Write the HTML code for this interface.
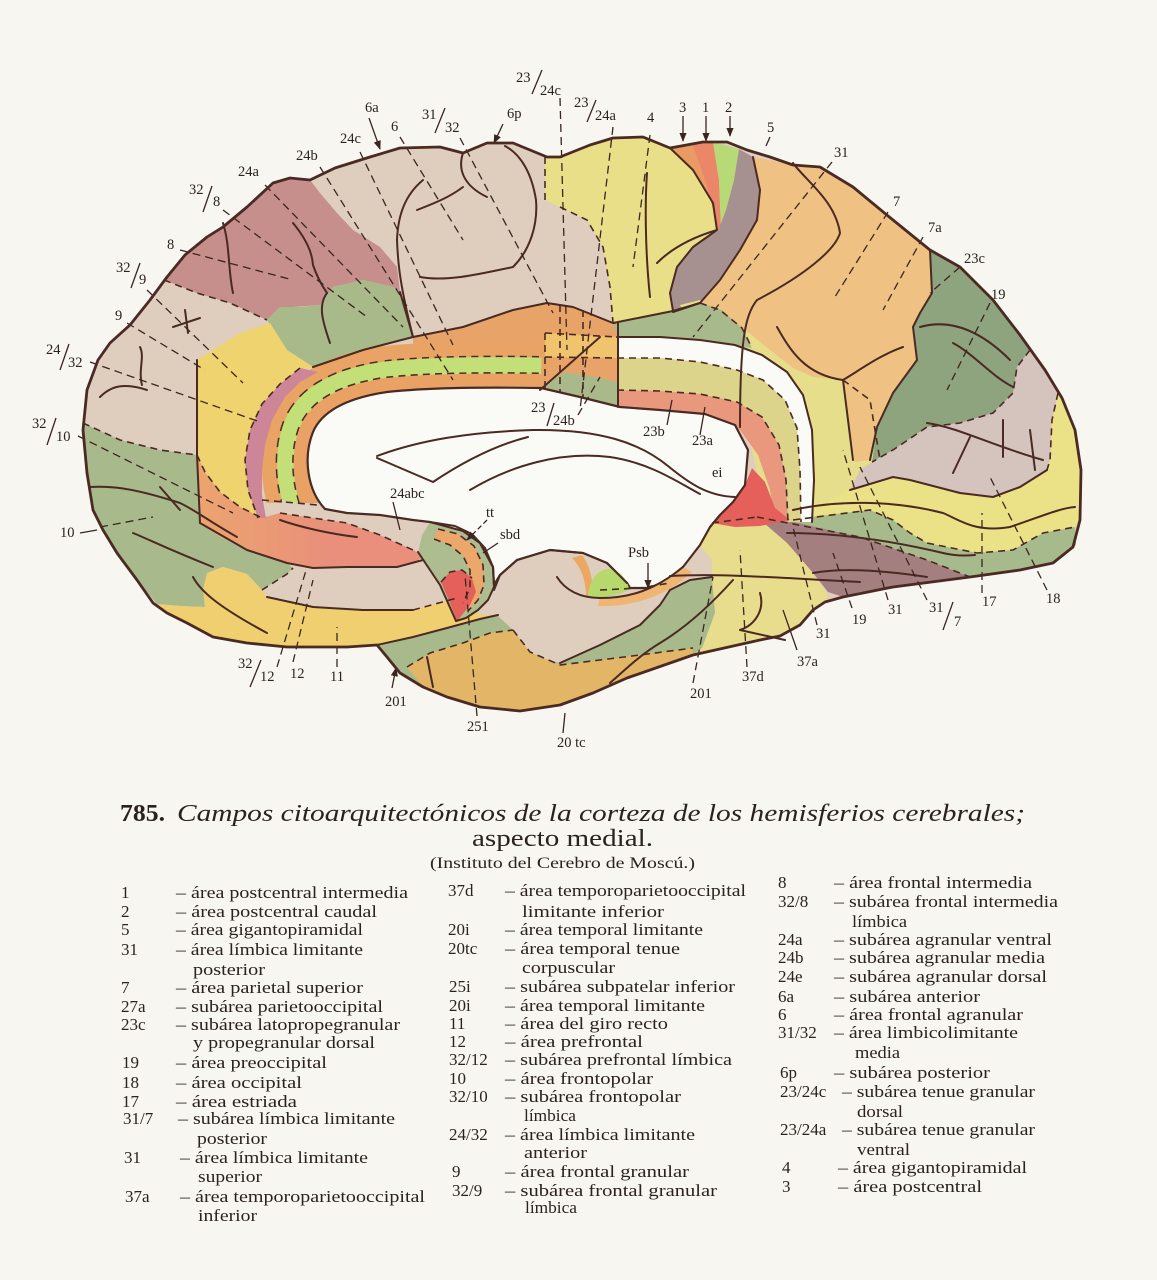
<!DOCTYPE html>
<html><head><meta charset="utf-8">
<style>
html,body{margin:0;padding:0;background:#f7f6f1;}
svg{display:block;}
text{font-family:"Liberation Serif","DejaVu Serif",serif;fill:#2b2220;}
.lb{font-size:14.5px;}
.lg{font-size:17px;}
.ln{fill:none;stroke:#4a2a22;stroke-width:2;stroke-linejoin:round;stroke-linecap:round;}
.ds{fill:none;stroke:#4a2a22;stroke-width:1.6;stroke-dasharray:7 5;}
.ld{fill:none;stroke:#3a2520;stroke-width:1.3;stroke-dasharray:8 5;}
.ls{fill:none;stroke:#3a2520;stroke-width:1.3;}
</style></head><body>
<svg width="1157" height="1280" viewBox="0 0 1157 1280" xmlns="http://www.w3.org/2000/svg">
<defs>
<marker id="ah" viewBox="0 0 10 10" refX="9" refY="5" markerWidth="7" markerHeight="7" orient="auto"><path d="M0,1 L10,5 L0,9 Z" fill="#3a2520"/></marker>
<linearGradient id="gos" x1="200" y1="0" x2="330" y2="0" gradientUnits="userSpaceOnUse"><stop offset="0" stop-color="#eba46f"/><stop offset="1" stop-color="#e98f7b"/></linearGradient>
<clipPath id="cb"><rect x="0" y="0" width="1157" height="503"/></clipPath>
</defs>
<rect width="1157" height="1280" fill="#f7f6f1"/>

<!-- base brain -->
<path d="M87,390 L98,360 L110,343 L130,325 L150,300 L167,277 L185,255 L207,237 L223,227 L247,207 L273,183 L290,178 L310,180 L335,168 L370,157 L400,148 L440,147 L463,153 L487,143 L513,143 L547,157 L560,157 L590,145 L613,138 L643,137 L670,148 L703,142 L727,142 L747,150 L770,157 L793,165 L820,167 L853,187 L893,220 L930,250 L960,267 L993,300 L1020,335 L1045,370 L1062,398 L1075,430 L1081,470 L1080,520 L1073,547 L1053,563 L1020,570 L970,577 L893,587 L843,597 L825,602 L813,610 L800,625 L780,636 L760,640 L693,655 L627,678 L593,693 L560,705 L520,711 L480,707 L447,697 L423,687 L400,673 L387,657 L377,645 L347,647 L287,647 L247,643 L213,637 L187,623 L167,613 L153,603 L137,580 L117,553 L103,530 L93,510 L87,473 L83,430 Z" fill="#dfcebe"/>

<!-- frontal regions -->
<path d="M164,280 L180,260 L207,237 L223,227 L247,207 L273,183 L290,178 L310,180 L320,193 L337,213 L353,230 L380,247 L397,267 L400,292 L393,287 L363,280 L333,287 L320,305 L293,307 L280,307 L267,320 L230,303 L197,293 Z" fill="#c68f8c"/>
<path d="M267,320 L280,307 L300,307 L320,305 L333,287 L363,280 L393,287 L400,293 L413,337 L363,350 L313,367 L287,350 Z" fill="#a8b98a"/>
<path d="M197,360 L213,350 L240,333 L270,323 L287,350 L313,367 L300,370 L280,384 L262,404 L250,430 L245,460 L248,490 L255,510 L258,518 L240,507 L220,492 L205,472 L197,455 Z" fill="#efd36f"/>
<path d="M197,455 L205,472 L220,492 L240,507 L262,518 L280,513 L313,518 L347,523 L380,535 L413,550 L425,556 L413,563 L397,567 L347,567 L313,568 L287,563 L247,550 L220,537 L200,523 Z" fill="url(#gos)"/>
<path d="M83,423 L120,440 L160,450 L197,455 L200,523 L220,537 L247,550 L287,563 L293,568 L287,574 L262,590 L247,574 L223,567 L207,573 L203,590 L205,607 L180,606 L157,604 L137,580 L117,553 L103,530 L93,510 L87,473 Z" fill="#a8b98c"/>
<path d="M205,607 L203,590 L207,573 L223,567 L247,574 L262,590 L268,598 L313,607 L363,610 L413,610 L457,598 L470,612 L485,615 L498,615 L480,619 L447,628 L413,637 L377,645 L347,647 L287,647 L247,643 L213,637 L187,623 L167,613 L157,604 L180,606 Z" fill="#f0cf70"/>

<!-- cingulate 23/24 zone -->
<path d="M413,337 L463,327 L513,310 L547,303 L573,307 L613,323 L618,323 L618,407 L540,392 L413,392 Z" fill="#e8a368"/>

<!-- parietal / central -->
<path d="M545,157 L560,157 L590,145 L613,138 L643,137 L670,148 L693,170 L713,203 L717,230 L693,247 L677,267 L670,293 L673,311 L643,317 L613,323 L610,287 L603,247 L587,220 L560,207 L545,200 Z" fill="#e8df88"/>
<path d="M670,148 L692,144 L705,180 L714,212 L718,230 L713,203 L693,170 Z" fill="#ea9a63"/>
<path d="M692,144 L713,142 L719,180 L721,228 L718,230 L714,212 L705,180 Z" fill="#ec8668"/>
<path d="M713,142 L739,149 L734,180 L726,210 L721,228 L719,180 Z" fill="#b8da76"/>
<path d="M739,149 L753,157 L760,190 L757,220 L740,250 L720,280 L700,303 L673,312 L670,293 L677,267 L693,247 L718,231 L726,210 L734,180 Z" fill="#a79190"/>
<path d="M680,305 L700,300 L740,322 L770,350 L800,368 L843,378 L870,400 L880,460 L862,490 L845,510 L815,528 L770,528 L745,420 L740,350 L700,342 Z" fill="#e7de8c"/>
<path d="M753,157 L793,165 L820,167 L853,187 L893,220 L930,250 L932,293 L920,313 L913,327 L917,360 L893,393 L877,427 L870,460 L855,462 L848,420 L843,380 L813,377 L793,368 L770,350 L745,330 L720,310 L700,303 L720,280 L740,250 L757,220 L760,190 Z" fill="#efc283"/>
<path d="M613,323 L643,317 L673,312 L700,303 L722,310 L742,328 L752,348 L737,346 L700,340 L660,337 L618,337 Z" fill="#a8b98b"/>

<!-- occipital -->
<path d="M930,250 L960,267 L993,300 L1020,335 L1030,350 L1017,367 L1013,393 L993,413 L960,423 L927,427 L893,450 L872,462 L877,427 L893,393 L917,360 L913,327 L920,313 L932,293 Z" fill="#8ea47e"/>
<path d="M1030,350 L1045,370 L1058,393 L1052,420 L1050,460 L1047,470 L1020,487 L993,497 L960,493 L910,480 L893,477 L850,490 L860,470 L872,462 L893,450 L927,427 L960,423 L993,413 L1013,393 L1017,367 Z" fill="#d5c3bd"/>
<path d="M1058,393 L1062,398 L1075,430 L1081,470 L1080,520 L1075,527 L1043,533 L1013,550 L977,553 L927,543 L910,533 L893,520 L870,510 L793,520 L800,510 L830,500 L850,490 L893,477 L910,480 L960,493 L993,497 L1020,487 L1047,470 L1050,460 L1052,420 Z" fill="#ebe287"/>
<path d="M785,520 L870,510 L893,520 L910,533 L927,543 L977,553 L1013,550 L1043,533 L1075,527 L1076,545 L1053,563 L1020,570 L970,577 L927,560 L860,537 Z" fill="#a6ba8c"/>
<path d="M757,517 L785,520 L860,537 L927,560 L970,577 L930,582 L893,587 L860,592 L843,597 L828,592 L813,573 L787,543 Z" fill="#a47f80"/>

<!-- temporal -->
<path d="M700,543 L712,523 L757,517 L787,543 L813,573 L828,595 L825,602 L813,610 L800,625 L780,636 L760,640 L693,655 L700,633 L713,613 L710,578 L690,579 L670,585 L683,567 Z" fill="#e7dd8d"/>
<path d="M377,645 L413,637 L447,628 L480,619 L498,615 L540,600 L600,590 L670,583 L712,577 L715,613 L702,648 L693,655 L627,678 L593,693 L560,705 L520,711 L480,707 L447,697 L423,687 L400,673 L387,657 Z" fill="#a8ba8c"/>
<path d="M494,590 L500,575 L517,560 L550,550 L583,553 L607,563 L627,583 L650,590 L667,580 L683,567 L700,545 L712,560 L712,577 L690,580 L670,590 L660,605 L640,625 L600,645 L560,663 L530,655 L513,630 L497,615 Z" fill="#dfcebe"/>
<path d="M407,667 L430,653 L463,643 L490,633 L513,630 L530,652 L560,665 L600,660 L640,655 L693,648 L693,655 L627,678 L593,693 L560,705 L520,711 L480,707 L447,697 L423,687 Z" fill="#e3b667"/>

<!-- tt / sbd / 25i -->
<path d="M430,522 L455,526 L472,534 L485,548 L493,567 L494,587 L488,600 L478,610 L466,618 L456,621 L448,603 L440,585 L428,568 L418,552 L422,535 Z" fill="#adbd8f"/>
<path d="M438,529 L458,534 L474,546 L483,565 L484,585 L478,600 L468,611 L463,603 L470,588 L470,570 L463,556 L450,545 L434,539 Z" fill="#eba86a"/>
<path d="M441,582 L450,572 L462,570 L472,578 L476,592 L470,605 L462,615 L457,621 L450,603 Z" fill="#e5605a"/>

<!-- cingulate bands (stroked) -->
<g clip-path="url(#cb)" fill="none" stroke-linecap="butt">
<path d="M330,530 C306,500 303,457 313,432 C322,411 347,398 387,392 C425,388 470,387 541,388" stroke="#e9a465" stroke-width="92"/>
<path d="M330,530 C306,500 303,457 313,432 C322,411 347,398 387,392 C425,388 470,387 541,388" stroke="#4a2a22" stroke-width="64" stroke-dasharray="7 5"/>
<path d="M330,530 C306,500 303,457 313,432 C322,411 347,398 387,392 C425,388 470,387 541,388" stroke="#c3df78" stroke-width="61"/>
<path d="M330,530 C306,500 303,457 313,432 C322,411 347,398 387,392 C425,388 470,387 541,388" stroke="#4a2a22" stroke-width="31" stroke-dasharray="7 5"/>
<path d="M330,530 C306,500 303,457 313,432 C322,411 347,398 387,392 C425,388 470,387 541,388" stroke="#e9a263" stroke-width="28"/>
</g>
<path d="M282,500 L325,509 L347,513 L380,515 L413,520 L430,522 L422,535 L418,552 L413,550 L380,535 L347,523 L313,518 L280,513 Z" fill="#dfcebe"/>
<path d="M300,368 L318,372 L300,382 L285,397 L272,420 L265,445 L262,470 L262,495 L266,518 L258,518 L248,490 L245,460 L250,430 L262,404 L280,384 Z" fill="#cd8697"/>
<path d="M545,333 L617,337 L617,358 L545,357 Z" fill="#f0c46d"/>
<path d="M538,390 L565,372 L590,376 L618,382 L620,407 L580,399 Z" fill="#a9b98a"/>

<!-- posterior cingulate bands -->
<path d="M617,337 L660,337 L700,340 L735,345 L762,355 L787,372 L803,395 L812,430 L814,480 L812,522 L801,522 L800,470 L797,428 L785,400 L763,380 L737,370 L700,362 L660,358 L617,358 Z" fill="#fafaf7"/>
<path d="M617,358 L660,358 L700,362 L737,370 L763,380 L785,400 L797,428 L800,470 L801,522 L788,522 L786,480 L779,445 L762,417 L737,402 L700,394 L660,391 L617,390 Z" fill="#dcd48a"/>
<path d="M617,390 L660,391 L700,394 L737,402 L762,417 L779,445 L786,480 L788,522 L775,522 L770,490 L758,455 L740,430 L705,414 L660,410 L620,407 Z" fill="#e9977d"/>
<path d="M712,523 L730,505 L745,485 L752,468 L765,482 L775,508 L790,520 L760,526 L735,527 Z" fill="#e5605b"/>

<!-- hole -->
<path d="M325,509 C307,490 303,457 313,432 C322,411 347,398 387,392 C425,388 470,387 541,388 L580,397 L620,407 L660,410 L705,414 L735,425 L748,450 L745,485 L733,502 L720,515 L710,527 L700,545 L683,567 L667,580 L650,588 L630,588 L627,583 L607,563 L583,553 L550,550 L517,560 L500,575 L494,585 L493,567 L480,543 L463,531 L430,522 L413,520 L380,515 L347,513 Z" fill="#fafaf7" stroke="#4a2a22" stroke-width="2.2" stroke-linejoin="round"/>

<!-- Psb -->
<path d="M600,598 C630,597 655,590 683,567 L692,572 C665,598 630,607 598,606 Z" fill="#efb573"/>
<path d="M572,558 C582,568 586,582 586,597 L593,598 C593,580 590,565 582,555 Z" fill="#eba862"/>
<path d="M588,596 C589,580 598,569 609,569 C620,570 628,580 629,590 C615,597 600,598 588,596 Z" fill="#b6d86c"/>

<!-- inner callosal lines -->
<g class="ln">
<path d="M377,456 C420,440 470,432 533,430 C600,429 640,443 668,466 C690,484 708,496 735,497"/>
<path d="M377,458 L433,482 C460,464 492,446 528,437"/>
<path d="M470,490 C510,466 560,451 610,457 C650,463 676,481 700,494"/>
<path d="M557,577 C565,590 580,598 600,598 C630,598 655,590 683,567"/>
</g>

<!-- solid internal lines -->
<g class="ln">
<path d="M377,645 L413,637 L447,628 L480,619 L498,615"/>
<path d="M313,367 L363,350 L413,337 L463,327 L513,310 L547,303 L573,307 L613,323 L643,317 L673,311 L700,303"/>
<path d="M400,292 L413,337"/>
<path d="M423,180 C405,195 398,215 397,240 C398,265 400,285 413,337"/>
<path d="M420,277 C447,282 480,274 513,267 C530,250 538,225 536,200 C532,175 522,155 505,146"/>
<path d="M463,153 C458,168 462,185 487,197"/>
<path d="M417,210 C435,203 450,197 463,187"/>
<path d="M650,297 C645,250 645,200 647,173"/>
<path d="M657,263 C670,250 690,238 717,230"/>
<path d="M197,360 L197,455 L200,523"/>
<path d="M100,397 C112,385 125,383 147,390"/>
<path d="M140,347 C145,357 138,370 142,385"/>
<path d="M173,327 L200,318 M185,310 L188,333"/>
<path d="M223,223 C230,245 228,270 233,293"/>
<path d="M293,223 C303,235 312,250 313,265 C318,280 325,290 327,293"/>
<path d="M327,293 C318,305 322,320 330,343"/>
<path d="M90,487 C110,486 130,487 180,503 C195,510 207,520 237,537"/>
<path d="M133,533 C150,540 170,550 213,567"/>
<path d="M160,487 L180,510"/>
<path d="M193,577 C200,590 215,605 267,633"/>
<path d="M280,520 C300,527 330,534 357,537"/>
<path d="M200,523 L247,550 L287,563 L313,568 L347,567 L397,567 L423,560"/>
<path d="M267,597 L313,607 L363,610 L413,610"/>
<path d="M418,552 L440,585 L456,621"/>
<path d="M430,522 L455,526 L472,534 L485,548 L493,567 L494,587 L488,600 L478,610 L466,618 L456,621"/>
<path d="M793,163 C805,180 835,200 840,233 C835,250 805,275 757,300 C745,315 740,340 740,427"/>
<path d="M843,380 C860,370 880,355 903,347"/>
<path d="M777,327 C790,350 805,375 843,380 L853,460"/>
<path d="M753,157 L760,190 L757,220 L740,250 L720,280 L700,303 L673,312"/>
<path d="M670,148 L693,170 L713,203 L717,230 L693,247 L677,267 L670,293 L673,311"/>
<path d="M920,327 C945,320 975,325 1010,360"/>
<path d="M953,343 C975,355 990,375 1013,387"/>
<path d="M930,250 L932,293 L920,313 L913,327 L917,360 L893,393 L877,427 L870,460"/>
<path d="M927,423 C960,428 990,445 1043,460"/>
<path d="M1003,420 L1003,457 M970,437 L953,473 M1030,430 L1035,470"/>
<path d="M850,490 L893,477 L910,480 L960,493 L993,497 L1020,487 L1047,470"/>
<path d="M793,510 C837,500 893,500 943,513 C960,520 975,533 1010,527 C1040,517 1060,508 1075,507"/>
<path d="M787,533 C830,533 880,538 943,553 C955,556 965,556 975,555"/>
<path d="M813,573 C840,568 880,570 927,577"/>
<path d="M670,576 C720,573 780,578 860,582"/>
<path d="M733,580 C715,600 690,625 660,643 C640,655 625,670 610,683"/>
<path d="M760,593 C765,610 755,625 740,630 L785,640"/>
<path d="M560,663 L600,645 L640,625 L660,605 L670,590 L690,580 L712,577"/>
<path d="M494,590 L500,575 L517,560 L550,550 L583,553 L607,563 L627,583"/>
<path d="M617,337 L660,337 L700,340 L735,345 L762,355 L787,372 L803,395 L812,430 L814,480 L812,522"/>
<path d="M618,323 L618,407"/>
<path d="M540,390 L600,337"/>
<path d="M433,687 L427,657"/>
</g>

<!-- dashed region boundaries -->
<g class="ds">
<path d="M164,280 L197,293 L230,303 L267,320"/>
<path d="M83,423 L120,440 L160,450 L197,455"/>
<path d="M300,368 L280,384 L262,404 L250,430 L245,460 L248,490 L258,518"/>
<path d="M262,500 L318,505"/>
<path d="M280,513 L313,518 L347,523 L380,535 L413,550"/>
<path d="M197,455 L205,472 L220,492 L240,507 L262,518"/>
<path d="M262,590 L287,574 L293,568"/>
<path d="M413,610 L457,598"/>
<path d="M407,667 L430,653 L463,643 L490,633 L513,630"/>
<path d="M513,630 L530,652 L560,665 L600,660 L640,655 L693,648"/>
<path d="M545,157 L545,200"/>
<path d="M560,207 L587,220 L603,247 L610,287 L613,323"/>
<path d="M1030,350 L1017,367 L1013,393 L993,413 L960,423 L927,427 L893,450 L872,462"/>
<path d="M793,520 L870,510 L893,520 L910,533 L927,543 L977,553 L1013,550 L1043,533 L1075,527"/>
<path d="M757,517 L860,537 L927,560 L970,577"/>
<path d="M1058,393 L1052,420 L1050,460 L1047,470"/>
<path d="M545,333 L545,390 M560,305 L560,392 M583,310 L583,398"/>
<path d="M545,333 L617,337 M545,357 L617,358"/>
<path d="M617,358 L660,358 L700,362 L737,370 L763,380 L785,400 L797,428 L800,470 L801,522"/>
<path d="M617,390 L660,391 L700,394 L737,402 L762,417 L779,445 L786,480 L788,522"/>
<path d="M413,337 L463,327 L513,310 L547,303 L573,307 L613,323 L618,323"/>
<path d="M438,529 L458,534 L474,546 L483,565 L484,585 L478,600 L468,611"/>
<path d="M434,539 L450,545 L463,556 L470,570 L470,588 L463,603"/>
<path d="M441,582 L450,572 L462,570 L472,578"/>
<path d="M712,523 L757,517"/>
<path d="M700,303 L720,310 L742,328 L752,348"/>
<path d="M843,380 L870,400 L880,460"/>
<path d="M600,590 L640,588 L670,583"/>
</g>

<!-- leader lines -->
<g class="ld">
<path d="M560,98 L567,350"/>
<path d="M613,127 L580,410"/>
<path d="M650,135 L633,267"/>
<path d="M460,138 L553,313"/>
<path d="M400,137 L463,240"/>
<path d="M360,152 L453,345"/>
<path d="M320,167 L453,380"/>
<path d="M265,185 L403,327"/>
<path d="M223,210 L367,317"/>
<path d="M180,250 L293,280"/>
<path d="M147,290 L243,383"/>
<path d="M127,323 L205,370"/>
<path d="M90,362 L260,422"/>
<path d="M78,436 L233,513"/>
<path d="M100,527 L153,517"/>
<path d="M832,162 L693,337"/>
<path d="M888,212 L833,300"/>
<path d="M923,237 L883,310"/>
<path d="M960,267 L930,293"/>
<path d="M990,303 L947,390"/>
<path d="M277,667 L307,567"/>
<path d="M293,662 L313,580"/>
<path d="M337,667 L337,627"/>
<path d="M477,716 L465,575"/>
<path d="M693,683 L713,577"/>
<path d="M747,667 L740,550"/>
<path d="M817,625 L793,527"/>
<path d="M852,608 L833,553"/>
<path d="M888,600 L843,450"/>
<path d="M927,600 L860,467"/>
<path d="M982,593 L982,513"/>
<path d="M1047,590 L990,477"/>
<path d="M578,415 L600,377"/>
</g>
<g class="ls">
<path d="M563,733 L565,713"/>
<path d="M797,650 L783,610"/>
<path d="M393,502 L400,530"/>
<path d="M498,543 L483,553"/>
<path d="M667,425 L672,400"/>
<path d="M700,435 L705,407"/>
<path d="M80,533 L97,530"/>
<path d="M770,137 L766,146"/>
<path d="M369,118 L380,149" marker-end="url(#ah)"/>
<path d="M503,124 L494,143" marker-end="url(#ah)"/>
<path d="M683,116 L683,141" marker-end="url(#ah)"/>
<path d="M706,116 L706,141" marker-end="url(#ah)"/>
<path d="M730,116 L730,136" marker-end="url(#ah)"/>
<path d="M392,688 L396,668" marker-end="url(#ah)"/>
<path d="M648,563 L648,588" marker-end="url(#ah)"/>
<path d="M487,520 L467,540" marker-end="url(#ah)" stroke-dasharray="5 3"/>
</g>

<!-- outline -->
<path d="M87,390 L98,360 L110,343 L130,325 L150,300 L167,277 L185,255 L207,237 L223,227 L247,207 L273,183 L290,178 L310,180 L335,168 L370,157 L400,148 L440,147 L463,153 L487,143 L513,143 L547,157 L560,157 L590,145 L613,138 L643,137 L670,148 L703,142 L727,142 L747,150 L770,157 L793,165 L820,167 L853,187 L893,220 L930,250 L960,267 L993,300 L1020,335 L1045,370 L1062,398 L1075,430 L1081,470 L1080,520 L1073,547 L1053,563 L1020,570 L970,577 L893,587 L843,597 L825,602 L813,610 L800,625 L780,636 L760,640 L693,655 L627,678 L593,693 L560,705 L520,711 L480,707 L447,697 L423,687 L400,673 L387,657 L377,645 L347,647 L287,647 L247,643 L213,637 L187,623 L167,613 L153,603 L137,580 L117,553 L103,530 L93,510 L87,473 L83,430 Z" fill="none" stroke="#4a2a22" stroke-width="2.8" stroke-linejoin="round"/>

<!-- diagram labels -->
<g class="lb">
<text x="516" y="82">23</text><text x="540" y="95">24c</text>
<text x="574" y="107">23</text><text x="595" y="120">24a</text>
<text x="365" y="112">6a</text>
<text x="391" y="131">6</text>
<text x="422" y="119">31</text><text x="445" y="132">32</text>
<text x="507" y="118">6p</text>
<text x="340" y="143">24c</text>
<text x="296" y="160">24b</text>
<text x="238" y="176">24a</text>
<text x="189" y="194">32</text><text x="213" y="206">8</text>
<text x="167" y="249">8</text>
<text x="116" y="272">32</text><text x="139" y="284">9</text>
<text x="115" y="320">9</text>
<text x="46" y="354">24</text><text x="68" y="367">32</text>
<text x="32" y="428">32</text><text x="56" y="441">10</text>
<text x="60" y="537">10</text>
<text x="238" y="668">32</text><text x="260" y="681">12</text>
<text x="290" y="678">12</text>
<text x="330" y="681">11</text>
<text x="385" y="706">201</text>
<text x="467" y="731">251</text>
<text x="557" y="747">20 tc</text>
<text x="390" y="498">24abc</text>
<text x="486" y="517">tt</text>
<text x="500" y="539">sbd</text>
<text x="628" y="557">Psb</text>
<text x="712" y="477">ei</text>
<text x="531" y="412">23</text><text x="553" y="425">24b</text>
<text x="643" y="436">23b</text>
<text x="692" y="445">23a</text>
<text x="690" y="698">201</text>
<text x="742" y="681">37d</text>
<text x="797" y="666">37a</text>
<text x="816" y="638">31</text>
<text x="852" y="624">19</text>
<text x="888" y="614">31</text>
<text x="929" y="612">31</text><text x="954" y="626">7</text>
<text x="982" y="606">17</text>
<text x="1046" y="603">18</text>
<text x="647" y="122">4</text>
<text x="679" y="112">3</text>
<text x="702" y="112">1</text>
<text x="725" y="112">2</text>
<text x="767" y="132">5</text>
<text x="834" y="157">31</text>
<text x="893" y="206">7</text>
<text x="928" y="232">7a</text>
<text x="964" y="263">23c</text>
<text x="991" y="299">19</text>
</g>
<g class="ls" stroke-width="1.4">
<path d="M532,94 L542,70"/>
<path d="M587,122 L596,100"/>
<path d="M435,133 L445,108"/>
<path d="M203,212 L212,186"/>
<path d="M131,288 L140,263"/>
<path d="M60,370 L69,344"/>
<path d="M47,445 L56,418"/>
<path d="M250,687 L261,660"/>
<path d="M547,426 L554,403"/>
<path d="M943,630 L953,602"/>
</g>

<!-- title -->
<text x="120" y="821" font-size="24" font-weight="bold" textLength="45" lengthAdjust="spacingAndGlyphs">785.</text>
<text x="177" y="821" font-size="24" font-style="italic" textLength="848" lengthAdjust="spacingAndGlyphs">Campos citoarquitectónicos de la corteza de los  hemisferios cerebrales;</text>
<text x="472" y="846" font-size="24" textLength="181" lengthAdjust="spacingAndGlyphs">aspecto medial.</text>
<text x="430" y="868" font-size="16" textLength="265" lengthAdjust="spacingAndGlyphs">(Instituto del Cerebro de Moscú.)</text>

<!-- legend col 1 -->
<g class="lg">
<text x="121" y="898">1</text><text x="176" y="898" textLength="232" lengthAdjust="spacingAndGlyphs">– área postcentral intermedia</text>
<text x="121" y="917">2</text><text x="176" y="917" textLength="201" lengthAdjust="spacingAndGlyphs">– área postcentral caudal</text>
<text x="121" y="935">5</text><text x="176" y="935" textLength="187" lengthAdjust="spacingAndGlyphs">– área gigantopiramidal</text>
<text x="121" y="955">31</text><text x="176" y="955" textLength="187" lengthAdjust="spacingAndGlyphs">– área límbica limitante</text>
<text x="193" y="975" textLength="72" lengthAdjust="spacingAndGlyphs">posterior</text>
<text x="121" y="993">7</text><text x="176" y="993" textLength="187" lengthAdjust="spacingAndGlyphs">– área parietal superior</text>
<text x="121" y="1012">27a</text><text x="176" y="1012" textLength="207" lengthAdjust="spacingAndGlyphs">– subárea parietooccipital</text>
<text x="121" y="1030">23c</text><text x="176" y="1030" textLength="224" lengthAdjust="spacingAndGlyphs">– subárea latopropegranular</text>
<text x="193" y="1048" textLength="182" lengthAdjust="spacingAndGlyphs">y propegranular dorsal</text>
<text x="122" y="1068">19</text><text x="176" y="1068" textLength="151" lengthAdjust="spacingAndGlyphs">– área preoccipital</text>
<text x="122" y="1088">18</text><text x="176" y="1088" textLength="126" lengthAdjust="spacingAndGlyphs">– área occipital</text>
<text x="122" y="1107">17</text><text x="176" y="1107" textLength="121" lengthAdjust="spacingAndGlyphs">– área estriada</text>
<text x="123" y="1124">31/7</text><text x="178" y="1124" textLength="217" lengthAdjust="spacingAndGlyphs">– subárea límbica limitante</text>
<text x="197" y="1144" textLength="70" lengthAdjust="spacingAndGlyphs">posterior</text>
<text x="124" y="1163">31</text><text x="180" y="1163" textLength="188" lengthAdjust="spacingAndGlyphs">– área límbica limitante</text>
<text x="198" y="1182" textLength="64" lengthAdjust="spacingAndGlyphs">superior</text>
<text x="125" y="1202">37a</text><text x="180" y="1202" textLength="245" lengthAdjust="spacingAndGlyphs">– área temporoparietooccipital</text>
<text x="198" y="1221" textLength="59" lengthAdjust="spacingAndGlyphs">inferior</text>
</g>

<!-- legend col 2 -->
<g class="lg">
<text x="448" y="896">37d</text><text x="505" y="896" textLength="241" lengthAdjust="spacingAndGlyphs">– área temporoparietooccipital</text>
<text x="522" y="917" textLength="142" lengthAdjust="spacingAndGlyphs">limitante inferior</text>
<text x="448" y="935">20i</text><text x="505" y="935" textLength="198" lengthAdjust="spacingAndGlyphs">– área temporal limitante</text>
<text x="448" y="954">20tc</text><text x="505" y="954" textLength="175" lengthAdjust="spacingAndGlyphs">– área temporal tenue</text>
<text x="522" y="973" textLength="93" lengthAdjust="spacingAndGlyphs">corpuscular</text>
<text x="449" y="992">25i</text><text x="505" y="992" textLength="230" lengthAdjust="spacingAndGlyphs">– subárea subpatelar inferior</text>
<text x="449" y="1011">20i</text><text x="505" y="1011" textLength="200" lengthAdjust="spacingAndGlyphs">– área temporal limitante</text>
<text x="449" y="1029">11</text><text x="505" y="1029" textLength="163" lengthAdjust="spacingAndGlyphs">– área del giro recto</text>
<text x="449" y="1047">12</text><text x="505" y="1047" textLength="138" lengthAdjust="spacingAndGlyphs">– área prefrontal</text>
<text x="449" y="1065">32/12</text><text x="505" y="1065" textLength="227" lengthAdjust="spacingAndGlyphs">– subárea prefrontal límbica</text>
<text x="449" y="1084">10</text><text x="505" y="1084" textLength="148" lengthAdjust="spacingAndGlyphs">– área frontopolar</text>
<text x="449" y="1102">32/10</text><text x="505" y="1102" textLength="176" lengthAdjust="spacingAndGlyphs">– subárea frontopolar</text>
<text x="524" y="1121" textLength="52" lengthAdjust="spacingAndGlyphs">límbica</text>
<text x="449" y="1140">24/32</text><text x="505" y="1140" textLength="190" lengthAdjust="spacingAndGlyphs">– área límbica limitante</text>
<text x="524" y="1158" textLength="63" lengthAdjust="spacingAndGlyphs">anterior</text>
<text x="452" y="1177">9</text><text x="505" y="1177" textLength="184" lengthAdjust="spacingAndGlyphs">– área frontal granular</text>
<text x="452" y="1196">32/9</text><text x="505" y="1196" textLength="212" lengthAdjust="spacingAndGlyphs">– subárea frontal granular</text>
<text x="525" y="1213" textLength="52" lengthAdjust="spacingAndGlyphs">límbica</text>
</g>

<!-- legend col 3 -->
<g class="lg">
<text x="778" y="888">8</text><text x="834" y="888" textLength="198" lengthAdjust="spacingAndGlyphs">– área frontal intermedia</text>
<text x="778" y="907">32/8</text><text x="834" y="907" textLength="224" lengthAdjust="spacingAndGlyphs">– subárea frontal intermedia</text>
<text x="852" y="927" textLength="55" lengthAdjust="spacingAndGlyphs">límbica</text>
<text x="778" y="945">24a</text><text x="834" y="945" textLength="218" lengthAdjust="spacingAndGlyphs">– subárea agranular ventral</text>
<text x="778" y="963">24b</text><text x="834" y="963" textLength="211" lengthAdjust="spacingAndGlyphs">– subárea agranular media</text>
<text x="778" y="982">24e</text><text x="834" y="982" textLength="213" lengthAdjust="spacingAndGlyphs">– subárea agranular dorsal</text>
<text x="778" y="1002">6a</text><text x="834" y="1002" textLength="146" lengthAdjust="spacingAndGlyphs">– subárea anterior</text>
<text x="778" y="1020">6</text><text x="834" y="1020" textLength="189" lengthAdjust="spacingAndGlyphs">– área frontal agranular</text>
<text x="778" y="1038">31/32</text><text x="834" y="1038" textLength="184" lengthAdjust="spacingAndGlyphs">– área limbicolimitante</text>
<text x="855" y="1058" textLength="45" lengthAdjust="spacingAndGlyphs">media</text>
<text x="780" y="1078">6p</text><text x="834" y="1078" textLength="156" lengthAdjust="spacingAndGlyphs">– subárea posterior</text>
<text x="780" y="1097">23/24c</text><text x="842" y="1097" textLength="193" lengthAdjust="spacingAndGlyphs">– subárea tenue granular</text>
<text x="857" y="1117" textLength="46" lengthAdjust="spacingAndGlyphs">dorsal</text>
<text x="780" y="1135">23/24a</text><text x="842" y="1135" textLength="193" lengthAdjust="spacingAndGlyphs">– subárea tenue granular</text>
<text x="857" y="1155" textLength="53" lengthAdjust="spacingAndGlyphs">ventral</text>
<text x="782" y="1173">4</text><text x="838" y="1173" textLength="189" lengthAdjust="spacingAndGlyphs">– área gigantopiramidal</text>
<text x="782" y="1192">3</text><text x="838" y="1192" textLength="144" lengthAdjust="spacingAndGlyphs">– área postcentral</text>
</g>
</svg>
</body></html>
